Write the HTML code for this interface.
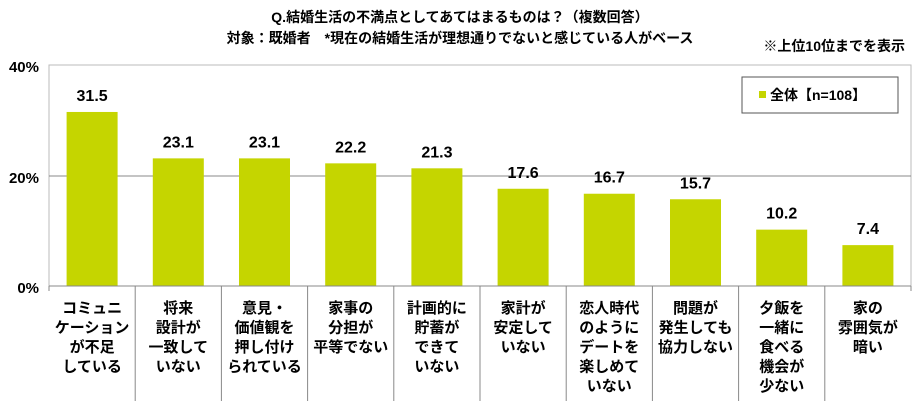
<!DOCTYPE html>
<html><head><meta charset="utf-8"><style>
body{margin:0;background:#fff}
svg text{font-family:"Liberation Sans","Noto Sans CJK JP",sans-serif;font-weight:bold;fill:#000}
</style></head><body>
<svg width="920" height="401" xmlns="http://www.w3.org/2000/svg">
<text x="460" y="22" font-size="14" text-anchor="middle">Q.結婚生活の不満点としてあてはまるものは？（複数回答）</text>
<text x="460" y="43" font-size="14" text-anchor="middle">対象：既婚者　*現在の結婚生活が理想通りでないと感じている人がベース</text>
<text x="905" y="51" font-size="14" text-anchor="end">※上位10位までを表示</text>
<rect x="49" y="65" width="862" height="221" fill="none" stroke="#bbb"/>
<line x1="49" y1="176" x2="911" y2="176" stroke="#888"/>
<text x="39" y="72" font-size="15" text-anchor="end">40%</text>
<text x="39" y="183" font-size="15" text-anchor="end">20%</text>
<text x="39" y="293" font-size="15" text-anchor="end">0%</text>
<rect x="742" y="77" width="156" height="36" fill="#fff" stroke="#555"/>
<rect x="759" y="91" width="7" height="7" fill="#c5d500"/>
<text x="770" y="100" font-size="14">全体【n=108】</text>
<g id="bars"></g>
<line x1="49" y1="286" x2="911" y2="286" stroke="#888"/>
<g id="sep"></g>
<g id="labels"></g>
</svg>
<script>
const vals=[31.5,23.1,23.1,22.2,21.3,17.6,16.7,15.7,10.2,7.4];
const labs=[["コミュニ","ケーション","が不足","している"],["将来","設計が","一致して","いない"],["意見・","価値観を","押し付け","られている"],["家事の","分担が","平等でない"],["計画的に","貯蓄が","できて","いない"],["家計が","安定して","いない"],["恋人時代","のように","デートを","楽しめて","いない"],["問題が","発生しても","協力しない"],["夕飯を","一緒に","食べる","機会が","少ない"],["家の","雰囲気が","暗い"]];
const ns="http://www.w3.org/2000/svg";
const b=document.getElementById("bars"),s=document.getElementById("sep"),l=document.getElementById("labels");
function el(p,t,a,txt){const e=document.createElementNS(ns,t);for(const k in a)e.setAttribute(k,a[k]);if(txt)e.textContent=txt;p.appendChild(e);}
const step=86.2;
vals.forEach((v,i)=>{const cx=49+step*(i+0.5);const h=v*5.525;
el(b,"rect",{x:cx-25.5,y:286-h,width:51,height:h,fill:"#c5d500"});
el(b,"text",{x:cx,y:286-h-11,"font-size":16,"text-anchor":"middle"},v.toFixed(1));
labs[i].forEach((t,j)=>el(l,"text",{x:cx,y:313+j*19.5,"font-size":15,"text-anchor":"middle"},t));
});
for(let i=0;i<=10;i++){const x=49+step*i;el(s,"line",{x1:x,y1:286,x2:x,y2:i==0||i==10?291:401,stroke:"#888"});}
</script>
</body></html>
